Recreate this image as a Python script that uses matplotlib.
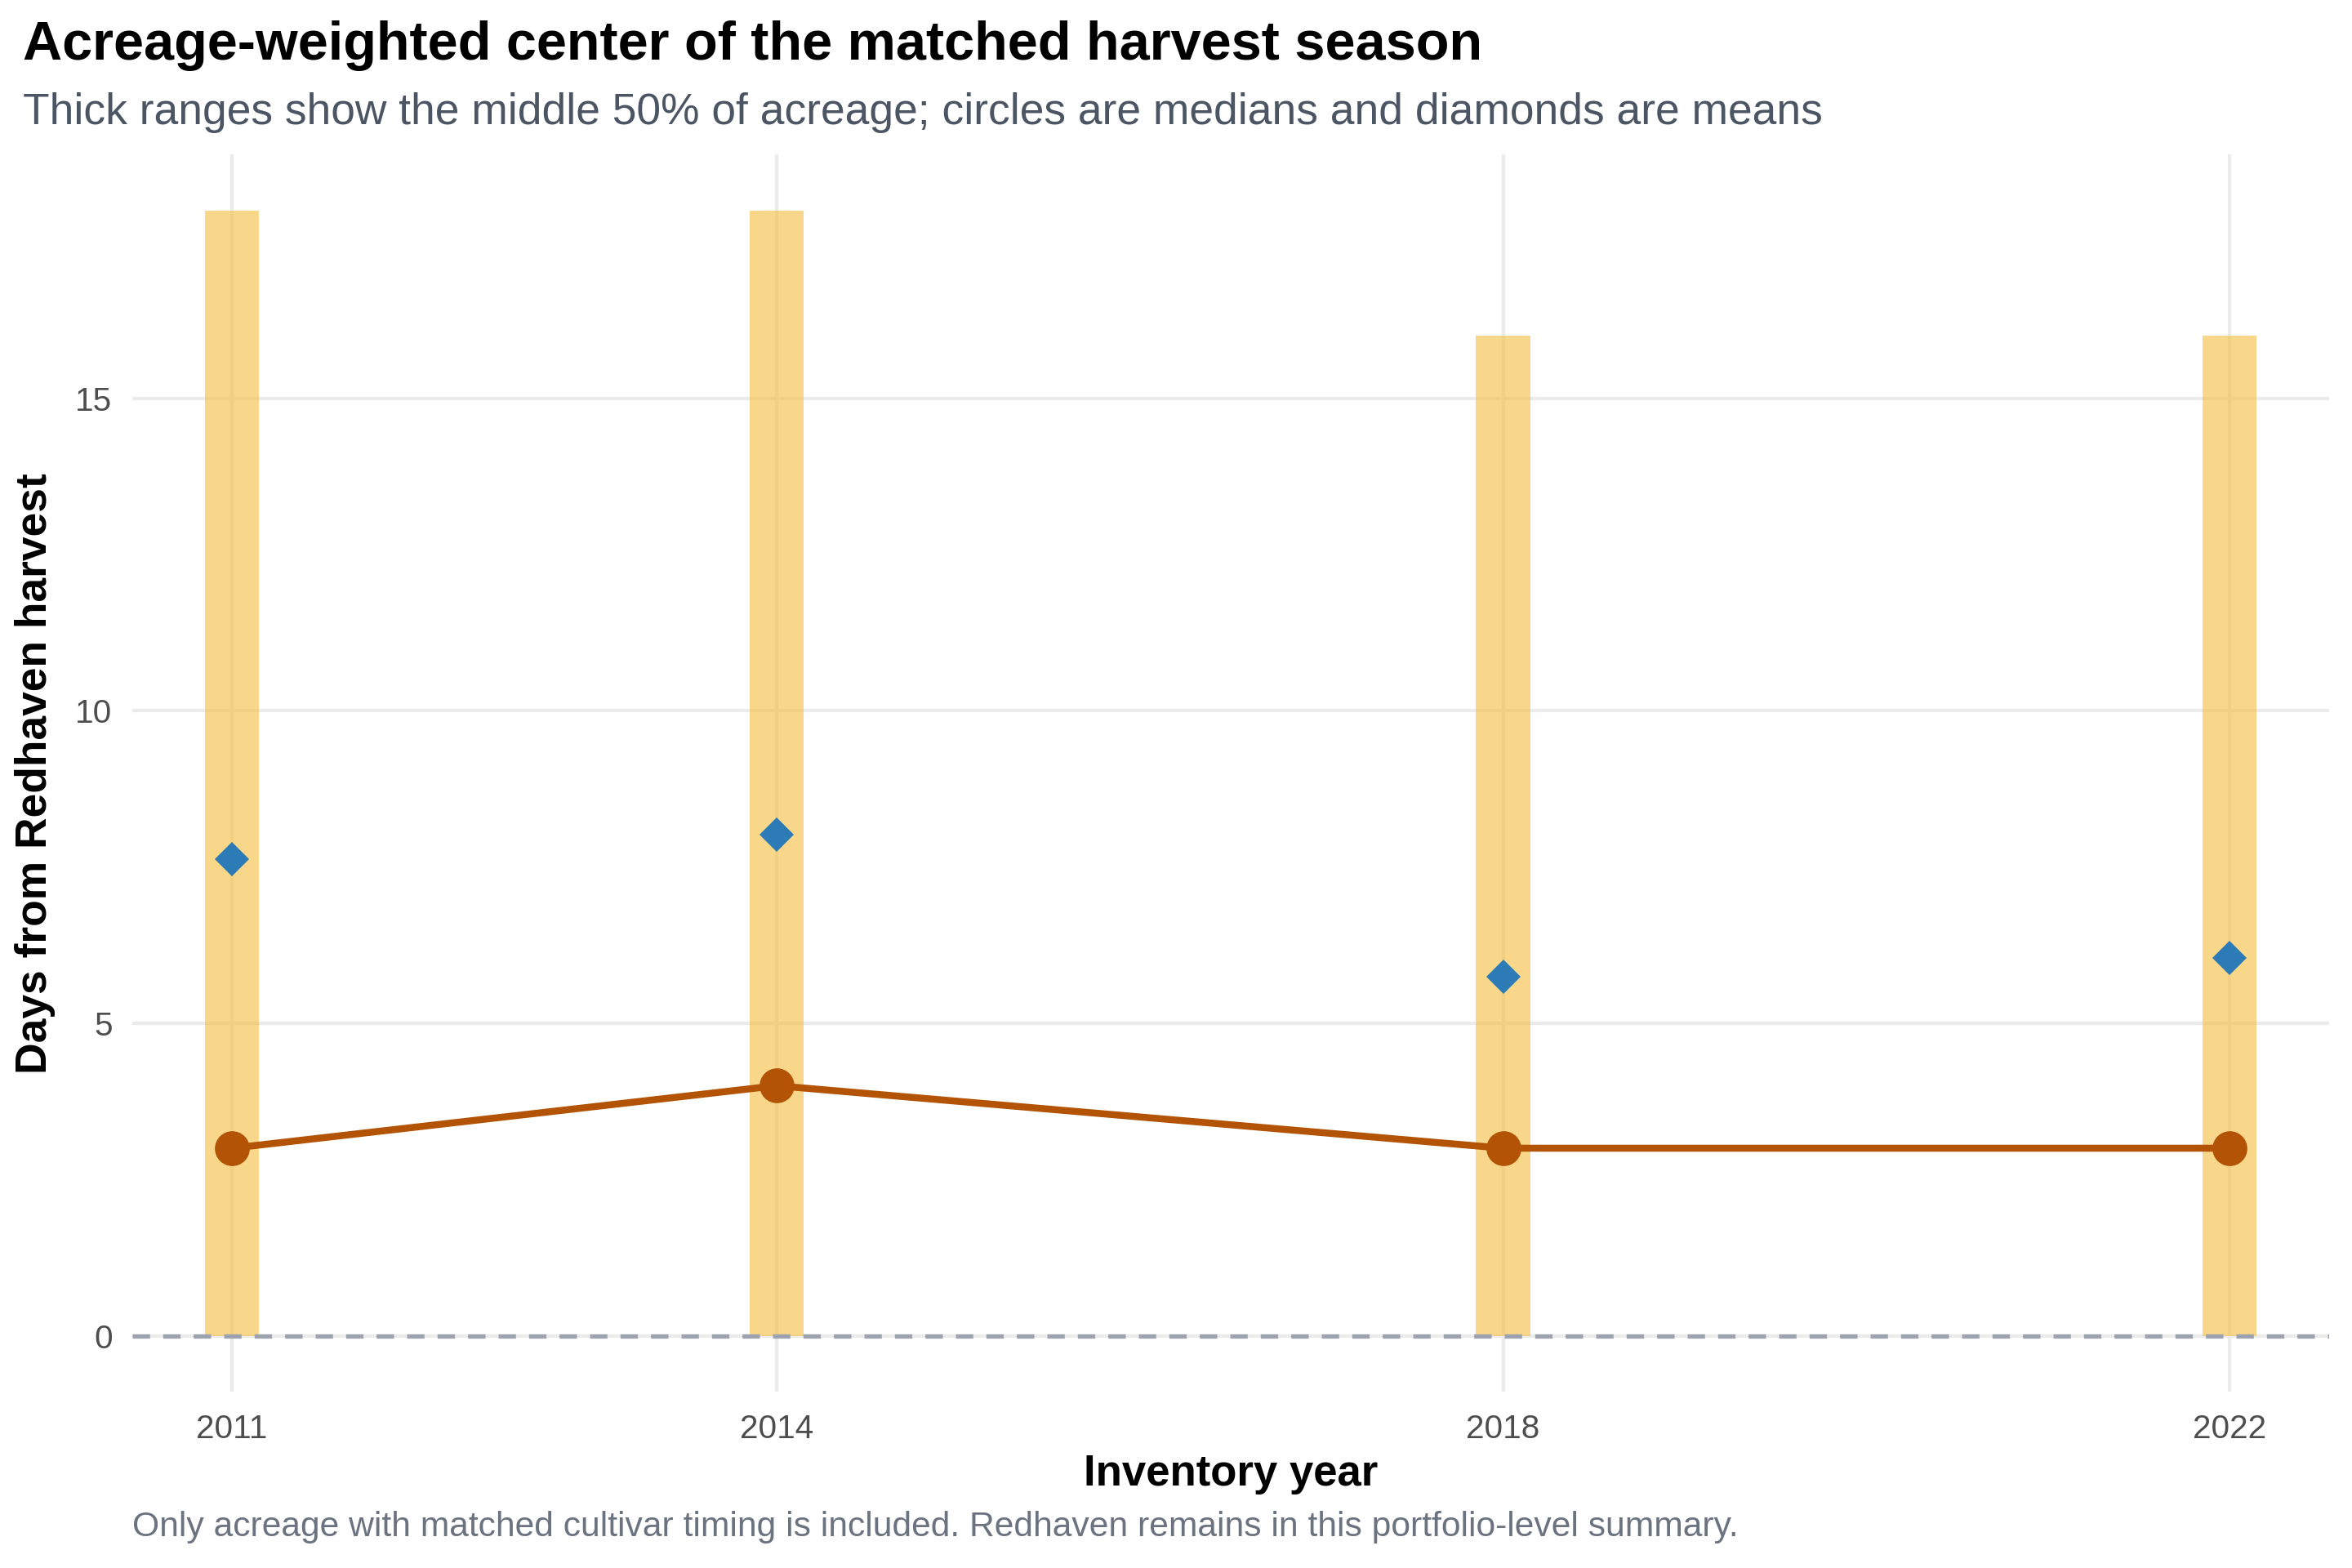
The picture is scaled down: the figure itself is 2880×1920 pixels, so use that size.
import matplotlib
matplotlib.use("Agg")
import matplotlib.pyplot as plt

plt.rcParams['font.family'] = ['Liberation Sans', 'DejaVu Sans']

# data
years = [2011, 2014, 2018, 2022]
q1 = [0, 0, 0, 0]
q3 = [18, 18, 16, 16]
medians = [3, 4, 3, 3]
means = [7.63, 8.02, 5.75, 6.04]
year_labels = ['2011', '2014', '2018', '2022']
y_ticks = [0, 5, 10, 15]

fig = plt.figure(figsize=(15, 10), dpi=192)
ax = fig.add_axes([0.0561, 0.1123, 0.9343, 0.7891])

# grid first so it sits under the marks
for y in y_ticks:
    ax.axhline(y, color='#EBEBEB', lw=1.6, zorder=0)
for x in years:
    ax.axvline(x, color='#EBEBEB', lw=1.6, zorder=0)

# middle 50% ranges
heights = [b - a for a, b in zip(q1, q3)]
ax.bar(years, heights, bottom=q1, width=0.3, color='#F5C24C', alpha=0.65,
       linewidth=0, zorder=1)

ax.axhline(0, color='#9CA3AF', lw=2.0, ls=(0, (4, 3)), zorder=2)

# medians
ax.plot(years, medians, color='#B35306', lw=3.2, marker='o', ms=15,
        zorder=3)
# means
ax.plot(years, means, ls='none', marker='D', ms=11, color='#2C7BB6',
        markeredgewidth=0, zorder=4)

ax.set_xlim(2010.45, 2022.55)
ax.set_ylim(-0.9, 18.9)
ax.set_xticks(years)
ax.set_xticklabels(year_labels)
ax.set_yticks(y_ticks)
ax.tick_params(length=0, labelsize=15.2, labelcolor='#4D4D4D')
ax.tick_params(axis='x', pad=10)
ax.tick_params(axis='y', pad=9)
for s in ax.spines.values():
    s.set_visible(False)

ax.set_xlabel('Inventory year', fontsize=19.8, fontweight='bold', labelpad=4)
ax.set_ylabel('Days from Redhaven harvest', fontsize=20, fontweight='bold',
              labelpad=9)

fig.text(0.0096, 0.971, 'Acreage-weighted center of the matched harvest season',
         fontsize=25, fontweight='bold', va='center', ha='left')
fig.text(0.0096, 0.928, 'Thick ranges show the middle 50% of acreage; circles are medians and diamonds are means',
         fontsize=20, color='#4B5563', va='center', ha='left')
fig.text(0.0561, 0.026, 'Only acreage with matched cultivar timing is included. Redhaven remains in this portfolio-level summary.',
         fontsize=16, color='#6B7280', va='center', ha='left')

fig.savefig('out.png', dpi=192)
